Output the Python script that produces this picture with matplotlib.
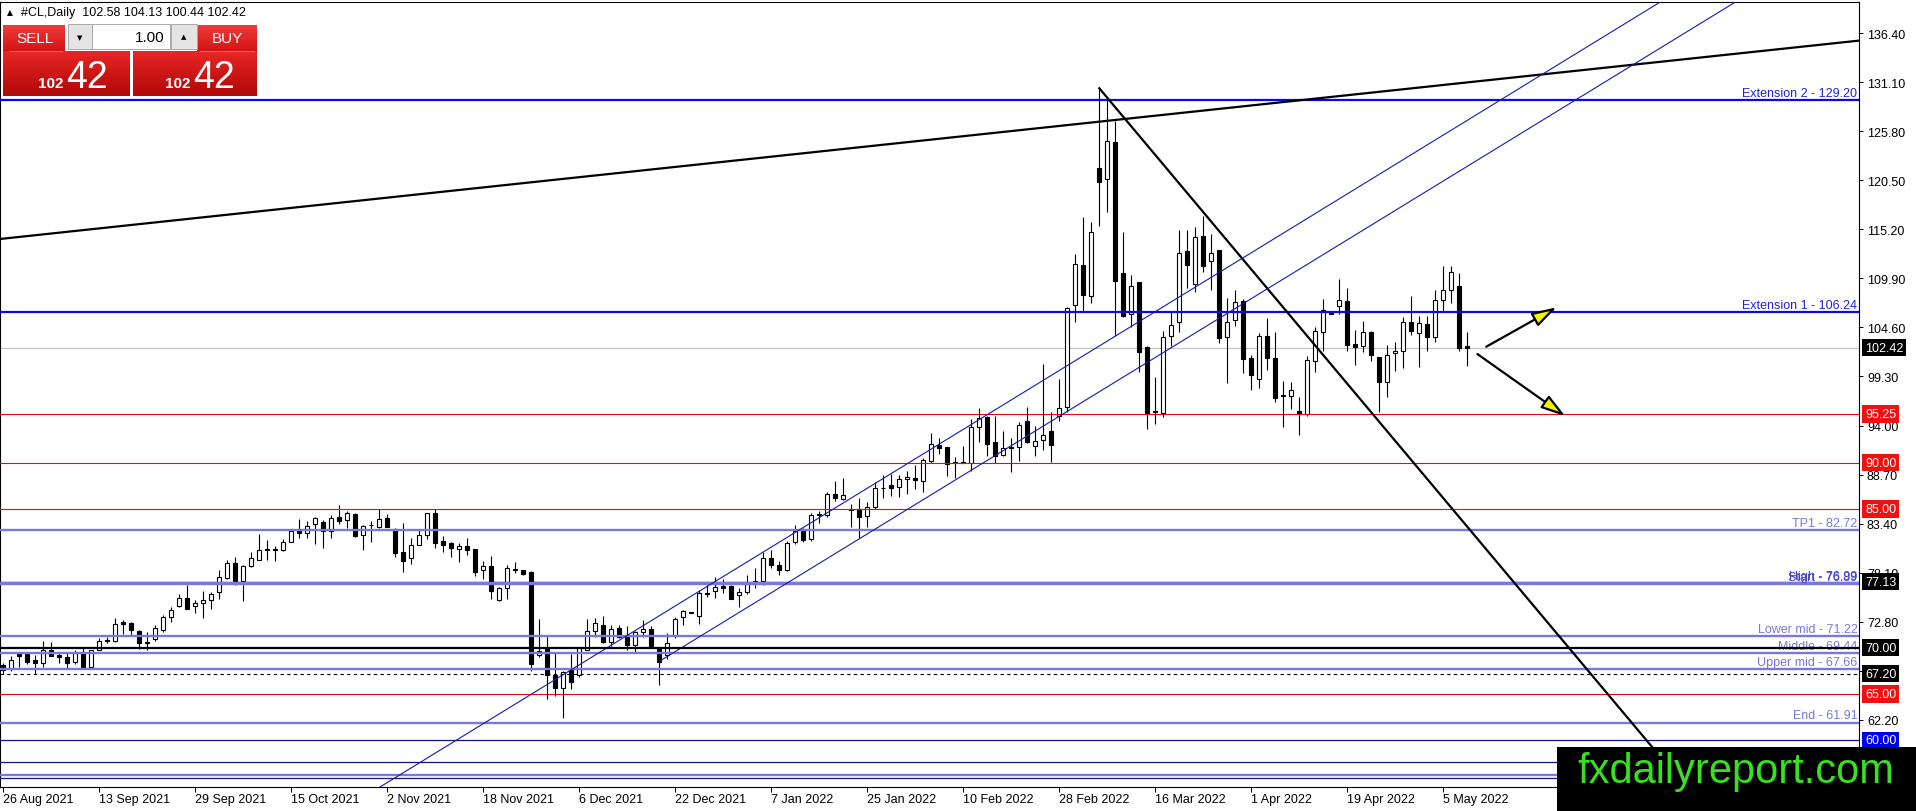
import matplotlib
matplotlib.use('Agg')
import matplotlib.pyplot as plt
import matplotlib.transforms as mtransforms
from matplotlib.colors import LinearSegmentedColormap
from matplotlib.patches import Rectangle
from matplotlib.ticker import FormatStrFormatter
import numpy as np

plt.rcParams['font.family'] = ['Liberation Sans', 'DejaVu Sans']

# --- daily candles, #CL (26 Aug 2021 .. 10 May 2022) --- #
opens = [68.1, 67.7, 69.4, 69.3, 68.7, 68.3, 69.8, 69.2, 68.95, 68.4, 69.5, 67.95,
         69.8, 70.8, 70.75, 72.75, 72.7, 71.8, 70.5, 70.9, 71.95, 73.3, 74.5, 75.4,
         74.5, 74.8, 75.15, 75.98, 77.56, 79.1, 77.2, 78.86, 79.5, 80.7, 80.6, 80.6,
         81.45, 82.7, 82.35, 83.4, 83.6, 82.6, 84.1, 83.8, 84.4, 82.2, 83.2, 83.0,
         83.97, 82.8, 80.3, 79.65, 81.1, 82.2, 84.55, 81.5, 81.3, 80.7, 80.95, 80.65,
         78.4, 78.8, 75.2, 76.5, 78.4, 78.4, 78.2, 69.2, 70.0, 67.05, 65.6, 67.7,
         67.1, 69.8, 71.8, 72.5, 70.65, 72.1, 71.3, 70.3, 71.7, 72.0, 70.04, 69.24,
         71.3, 73.3, 73.75, 73.45, 75.95, 76.1, 76.7, 76.7, 75.7, 75.98, 77.0, 77.2,
         79.65, 78.9, 78.4, 81.4, 82.75, 81.7, 84.3, 84.3, 86.6, 86.1, 84.9, 84.98,
         84.2, 85.23, 87.3, 87.6, 87.4, 88.2, 88.3, 87.97, 90.13, 91.9, 91.7, 89.95,
         90.0, 90.0, 93.87, 94.88, 92.18, 90.8, 91.7, 91.7, 94.5, 91.75, 92.47, 93.37,
         95.0, 96.03, 107.05, 111.34, 107.95, 121.78, 120.63, 124.59, 110.44, 106.04, 109.46, 102.44,
         95.5, 95.31, 103.63, 105.14, 112.8, 109.28, 114.43, 111.8, 112.96, 103.52, 105.43, 107.48,
         101.25, 99.02, 103.63, 101.25, 97.2, 97.15, 95.53, 95.24, 100.93, 104.06, 106.05, 106.94,
         107.48, 102.8, 102.55, 104.06, 101.43, 98.66, 101.8, 102.08, 105.14, 104.03, 104.96, 103.52,
         107.55, 108.67, 109.03, 102.58]
highs = [68.3, 69.1, 69.5, 69.4, 69.2, 70.7, 70.6, 69.4, 69.4, 69.8, 70.0, 69.8,
         71.0, 71.2, 73.2, 73.0, 72.8, 71.9, 71.66, 72.4, 73.5, 74.4, 75.8, 76.8,
         75.1, 76.1, 76.05, 78.4, 79.5, 79.8, 78.9, 80.3, 82.3, 81.6, 81.0, 81.7,
         82.8, 83.9, 83.7, 84.1, 83.8, 84.3, 85.4, 84.8, 84.5, 83.25, 83.7, 85.0,
         84.4, 82.9, 83.5, 81.8, 82.75, 84.6, 85.0, 82.1, 81.45, 81.3, 81.8, 80.7,
         79.4, 79.9, 76.6, 78.9, 79.3, 78.4, 78.3, 73.1, 71.3, 69.5, 67.5, 69.3,
         70.0, 73.1, 73.2, 73.4, 72.45, 72.4, 72.3, 71.8, 73.0, 72.3, 70.04, 71.6,
         73.3, 74.1, 73.85, 76.2, 76.8, 77.6, 77.4, 76.8, 76.5, 77.8, 78.6, 80.3,
         80.55, 79.4, 81.56, 83.2, 82.9, 84.6, 84.8, 86.8, 88.0, 88.3, 85.5, 86.2,
         85.7, 87.9, 88.6, 88.8, 88.65, 89.1, 89.7, 90.45, 93.2, 92.7, 91.7, 90.6,
         91.8, 94.7, 95.85, 94.99, 94.99, 93.36, 92.6, 94.4, 95.96, 93.98, 100.6, 95.42,
         99.0, 106.76, 112.53, 116.5, 115.95, 130.42, 129.2, 126.93, 114.87, 110.26, 109.54, 102.62,
         99.2, 104.17, 106.22, 115.15, 115.15, 115.48, 116.6, 114.7, 112.96, 107.77, 108.67, 107.66,
         101.61, 103.99, 105.58, 104.06, 98.84, 98.73, 97.04, 101.47, 104.6, 107.66, 106.1, 109.82,
         108.82, 104.35, 105.32, 104.24, 101.43, 102.73, 102.98, 105.76, 107.95, 105.79, 105.79, 108.67,
         111.26, 111.26, 110.47, 104.13]
lows = [67.2, 67.5, 67.9, 68.2, 67.2, 67.9, 69.1, 68.3, 67.8, 68.2, 67.9, 67.9,
        69.7, 70.5, 70.65, 71.5, 71.4, 69.9, 69.7, 70.7, 71.66, 72.8, 74.4, 74.2,
        73.7, 73.2, 74.2, 75.3, 77.4, 76.8, 75.0, 78.75, 79.5, 79.5, 79.4, 80.4,
        81.4, 81.9, 81.8, 81.2, 80.8, 81.8, 83.4, 82.9, 82.0, 80.6, 81.45, 82.9,
        83.0, 79.76, 78.2, 79.0, 81.1, 81.7, 80.8, 80.3, 79.8, 79.3, 80.0, 77.7,
        77.4, 75.3, 75.0, 75.26, 78.1, 77.8, 67.5, 69.0, 64.5, 64.8, 62.4, 65.5,
        66.8, 69.7, 71.1, 70.5, 70.2, 71.0, 69.7, 69.4, 71.1, 69.96, 66.0, 68.8,
        71.0, 72.4, 73.7, 72.6, 75.5, 75.4, 75.9, 75.26, 74.36, 75.8, 76.5, 76.8,
        78.6, 77.85, 78.3, 81.2, 81.4, 81.56, 83.5, 84.1, 85.8, 86.0, 83.0, 81.85,
        83.0, 84.98, 86.2, 86.4, 86.3, 86.6, 87.1, 86.8, 90.0, 90.9, 88.5, 88.3,
        89.9, 89.1, 92.2, 90.67, 90.0, 90.7, 89.0, 90.2, 92.07, 90.67, 91.4, 90.1,
        94.5, 95.42, 105.14, 106.4, 107.23, 115.51, 117.03, 103.63, 105.68, 104.6, 99.8, 93.62,
        94.2, 94.88, 102.62, 104.13, 108.82, 108.38, 110.62, 108.67, 102.87, 98.59, 104.71, 99.67,
        97.83, 98.0, 100.03, 96.57, 93.8, 95.78, 92.97, 94.99, 99.81, 102.08, 106.0, 106.04,
        102.08, 100.53, 101.97, 101.0, 95.42, 97.04, 99.85, 100.17, 103.77, 100.28, 102.08, 102.98,
        106.33, 107.23, 102.08, 100.44]
closes = [67.6, 68.7, 69.1, 68.5, 68.3, 69.8, 69.1, 68.95, 68.3, 69.4, 67.95, 69.7,
          70.7, 70.7, 72.6, 72.6, 71.95, 70.5, 70.6, 72.1, 73.3, 74.1, 75.4, 74.2,
          74.8, 75.1, 75.8, 77.6, 79.1, 77.2, 78.86, 79.65, 80.55, 80.55, 80.6, 81.45,
          82.6, 82.35, 83.1, 84.0, 82.6, 84.0, 83.7, 84.5, 82.1, 83.1, 83.25, 83.9,
          83.07, 80.2, 79.4, 81.1, 82.2, 84.6, 81.3, 81.1, 80.8, 80.95, 80.6, 78.2,
          78.86, 76.1, 76.5, 78.6, 78.45, 77.96, 68.2, 69.6, 67.0, 65.6, 67.4, 66.3,
          70.0, 71.8, 72.7, 70.65, 72.0, 71.2, 70.3, 71.66, 72.0, 70.04, 68.5, 70.5,
          73.1, 74.0, 73.8, 75.9, 75.8, 76.6, 76.5, 75.3, 75.98, 76.88, 77.2, 79.65,
          78.96, 78.4, 81.3, 82.6, 81.65, 84.3, 84.35, 86.6, 86.2, 86.5, 84.85, 84.1,
          85.15, 87.2, 87.2, 87.3, 88.2, 88.4, 88.1, 90.27, 92.0, 91.6, 89.8, 89.95,
          90.1, 93.87, 94.77, 92.0, 90.67, 91.6, 91.6, 94.05, 92.25, 92.29, 93.0, 91.93,
          95.85, 106.65, 111.44, 108.1, 114.94, 120.27, 124.7, 109.57, 105.79, 109.1, 101.97, 95.31,
          95.6, 103.59, 104.9, 112.63, 111.34, 114.33, 111.19, 112.63, 103.45, 105.14, 107.38, 101.18,
          99.45, 103.63, 101.25, 96.93, 97.15, 97.87, 95.31, 101.07, 104.17, 106.47, 106.05, 107.55,
          102.73, 102.51, 104.06, 101.65, 98.66, 101.65, 102.0, 105.14, 104.17, 105.04, 103.52, 107.55,
          108.64, 110.55, 102.33, 102.42]

# one date label every 12 bars
date_labels = ['26 Aug 2021', '13 Sep 2021', '29 Sep 2021', '15 Oct 2021', '2 Nov 2021',
               '18 Nov 2021', '6 Dec 2021', '22 Dec 2021', '7 Jan 2022', '25 Jan 2022',
               '10 Feb 2022', '28 Feb 2022', '16 Mar 2022', '1 Apr 2022', '19 Apr 2022',
               '5 May 2022']
label_step = 12
price_ticks = [136.40, 131.10, 125.80, 120.50, 115.20, 109.90, 104.60, 99.30, 94.00,
               88.70, 83.40, 78.10, 72.80, 67.50, 62.20, 56.90]

# --- horizontal levels --- #
level_prices = [129.20, 106.24, 102.42, 95.25, 90.00, 85.00, 82.72, 77.13, 76.99, 76.89,
                71.22, 70.00, 69.44, 67.66, 67.20, 65.00, 61.91, 60.00, 57.62, 56.25, 55.90]
level_kinds = ['ext', 'ext', 'last', 'red', 'red', 'red', 'fib', 'navy', 'fib', 'fib',
               'fib', 'black', 'fib', 'fib', 'dash', 'red', 'fib', 'navy', 'navy', 'fib', 'navy']
level_texts = ['Extension 2 - 129.20', 'Extension 1 - 106.24', 'TP1 - 82.72', 'Start - 76.89',
               'High - 76.99', 'Lower mid - 71.22', 'Middle - 69.44', 'Upper mid - 67.66', 'End - 61.91']
level_text_prices = [129.20, 106.24, 82.72, 76.89, 76.99, 71.22, 69.44, 67.66, 61.91]
level_text_kinds = ['ext', 'ext', 'fib', 'fib2', 'fib2', 'fib', 'fib', 'fib', 'fib']

# price boxes on the right scale
box_prices = [102.42, 95.25, 90.00, 85.00, 77.13, 70.00, 67.20, 65.00, 60.00]
box_colors = ['black', '#F01010', '#F01010', '#F01010', 'black', 'black', 'black', '#F01010', '#0000E8']

# --- trend lines, (bar, price) anchors --- #
top_line = ([-0.375, 231.9], [114.15, 135.57])
fall_line = ([137.04, 206.25], [130.43, 59.16])
channel_upper = ([47.125, 207.1], [54.95, 139.72])
channel_lower = ([82.125, 216.5], [68.57, 139.72])
arrow_up = ((185.4, 102.51), (194.2, 106.77))
arrow_down = ((184.3, 101.72), (195.3, 95.0))

STYLES = {
    'ext': dict(color='#0A0ADC', lw=1.6, ls='-'),
    'last': dict(color='#C0C0C0', lw=0.8, ls='-'),
    'red': dict(color='#DD1010', lw=0.8, ls='-'),
    'fib': dict(color='#7A78DC', lw=1.7, ls='-'),
    'navy': dict(color='#10108C', lw=0.9, ls='-'),
    'black': dict(color='black', lw=1.6, ls='-'),
    'dash': dict(color='black', lw=0.8, ls=(0, (3, 3))),
}
TEXT_COLORS = {'ext': '#2222D4', 'fib': '#7A78DC', 'fib2': '#4646CC'}

W, H = 1916, 812
fig = plt.figure(figsize=(W / 100, H / 100), dpi=100)
fig.patch.set_facecolor('white')
ax = fig.add_axes([0, 24 / H, 1859 / W, 785 / H])
ax.set_facecolor('white')

n = len(opens)
x = np.arange(n)
o = np.array(opens)
c = np.array(closes)
hi = np.array(highs)
lo = np.array(lows)

# --- candles --- #
ax.vlines(x, lo, hi, color='black', lw=0.8, zorder=3)
up = c >= o
bottom = np.minimum(o, c)
height = np.maximum(np.abs(c - o), 0.1)
ax.bar(x[up], height[up], bottom=bottom[up], width=0.55, facecolor='white',
       edgecolor='black', lw=0.8, zorder=4)
ax.bar(x[~up], height[~up], bottom=bottom[~up], width=0.55, facecolor='black',
       edgecolor='black', lw=0.8, zorder=4)

# --- levels --- #
for p, k in zip(level_prices, level_kinds):
    st = STYLES[k]
    z = 2 if k == 'last' else (7 if k == 'black' else 5)
    ax.axhline(p, color=st['color'], lw=st['lw'], ls=st['ls'], zorder=z)

x_right = 231.8
for t, p, k in zip(level_texts, level_text_prices, level_text_kinds):
    ax.text(x_right, p + 0.12, t, ha='right', va='bottom', fontsize=9,
            color=TEXT_COLORS[k], zorder=6)

# --- trend lines --- #
ax.plot(top_line[0], top_line[1], color='black', lw=1.6, zorder=6)
fx = np.array(fall_line[0])
fy = np.array(fall_line[1])
slope = (fy[1] - fy[0]) / (fx[1] - fx[0])
ax.plot([fx[0], 225], [fy[0], fy[0] + slope * (225 - fx[0])], color='black', lw=1.6, zorder=6)
ax.plot(channel_upper[0], channel_upper[1], color='#1818B4', lw=0.8, zorder=6)
ax.plot(channel_lower[0], channel_lower[1], color='#1818B4', lw=0.8, zorder=6)

for tail, tip in (arrow_up, arrow_down):
    ax.annotate('', xy=tip, xytext=tail,
                arrowprops=dict(arrowstyle='-|>,head_length=1.5,head_width=0.45',
                                fc='#F4F400', ec='black', lw=1.6, mutation_scale=10,
                                shrinkA=0, shrinkB=0), zorder=8)

ax.set_xlim(-0.375, 232)
ax.set_ylim(54.95, 139.75)

# --- axes --- #
ax.yaxis.tick_right()
ax.set_yticks(price_ticks)
ax.yaxis.set_major_formatter(FormatStrFormatter('%.2f'))
ax.tick_params(axis='y', direction='out', length=3, width=0.7, pad=2.7, labelsize=9)
ax.set_xticks(np.arange(len(date_labels)) * label_step)
ax.set_xticklabels(date_labels)
ax.tick_params(axis='x', direction='out', length=3.5, width=0.7, pad=0.5, labelsize=9)
for lab in ax.get_xticklabels():
    lab.set_ha('left')
for sp in ax.spines.values():
    sp.set_linewidth(0.8)
    sp.set_color('black')

trans = mtransforms.blended_transform_factory(ax.transAxes, ax.transData)
for p, col in zip(box_prices, box_colors):
    ax.text(1 + 6 / 1859, p, '%.2f' % p, transform=trans, ha='left', va='center',
            fontsize=9, color='white', clip_on=False, zorder=20,
            bbox=dict(boxstyle='square,pad=0.22', fc=col, ec='none'))

# --- overlay: title, trade panel, watermark (pixel coordinates) --- #
ov = fig.add_axes([0, 0, 1, 1], zorder=10)
ov.patch.set_alpha(0)
ov.axis('off')

ov.text(10, 13, '\u25B2', fontsize=5.5, ha='center', va='center', family=['DejaVu Sans'])
ov.text(21, 13, '#CL,Daily  102.58 104.13 100.44 102.42', fontsize=9, ha='left', va='center')

red_top = LinearSegmentedColormap.from_list('rt', ['#F03A3A', '#D41414'])
red_big = LinearSegmentedColormap.from_list('rb', ['#E82626', '#B00808'])
grad = np.linspace(0, 1, 64).reshape(-1, 1)


def grad_box(x0, y0, x1, y1, cmap):
    ov.imshow(grad, cmap=cmap, extent=[x0, x1, y1, y0], aspect='auto', zorder=11)


grad_box(3, 26, 65, 52, red_top)
grad_box(197, 26, 257, 52, red_top)
grad_box(3, 52, 130, 97, red_big)
grad_box(133, 52, 257, 97, red_big)
ov.plot([10, 62], [51.5, 51.5], color='#F07070', lw=0.6, zorder=12)
ov.plot([200, 254], [51.5, 51.5], color='#F07070', lw=0.6, zorder=12)

ov.add_patch(Rectangle((68, 25), 24, 25, fc='#E4E4E4', ec='#A8A8A8', lw=0.7, zorder=11))
ov.add_patch(Rectangle((92, 25), 78, 25, fc='white', ec='#A8A8A8', lw=0.7, zorder=11))
ov.add_patch(Rectangle((171, 25), 26, 25, fc='#E4E4E4', ec='#A8A8A8', lw=0.7, zorder=11))
ov.text(80, 38, '\u25BC', fontsize=5, ha='center', va='center', zorder=12, family=['DejaVu Sans'])
ov.text(184, 37, '\u25B2', fontsize=5, ha='center', va='center', zorder=12, family=['DejaVu Sans'])
ov.text(165, 38, '1.00', fontsize=11, ha='right', va='center', zorder=12)
ov.text(35, 39, 'SELL', fontsize=11, color='white', ha='center', va='center', zorder=12)
ov.text(227, 39, 'BUY', fontsize=11, color='white', ha='center', va='center', zorder=12)
for bx in (38, 165):
    ov.text(bx, 88, '102', fontsize=11, fontweight='bold', color='white', ha='left',
            va='baseline', zorder=12)
    ov.text(bx + 28, 88, '42', fontsize=27, color='white', ha='left', va='baseline', zorder=12)

ov.add_patch(Rectangle((1557, 748), W - 1557, H - 748, fc='black', ec='none', zorder=11))
ov.text(1736, 783, 'fxdailyreport.com', fontsize=30, color='#38E020', ha='center',
        va='baseline', zorder=12)

ov.set_xlim(0, W)
ov.set_ylim(H, 0)

fig.savefig('out.png', dpi=100)
